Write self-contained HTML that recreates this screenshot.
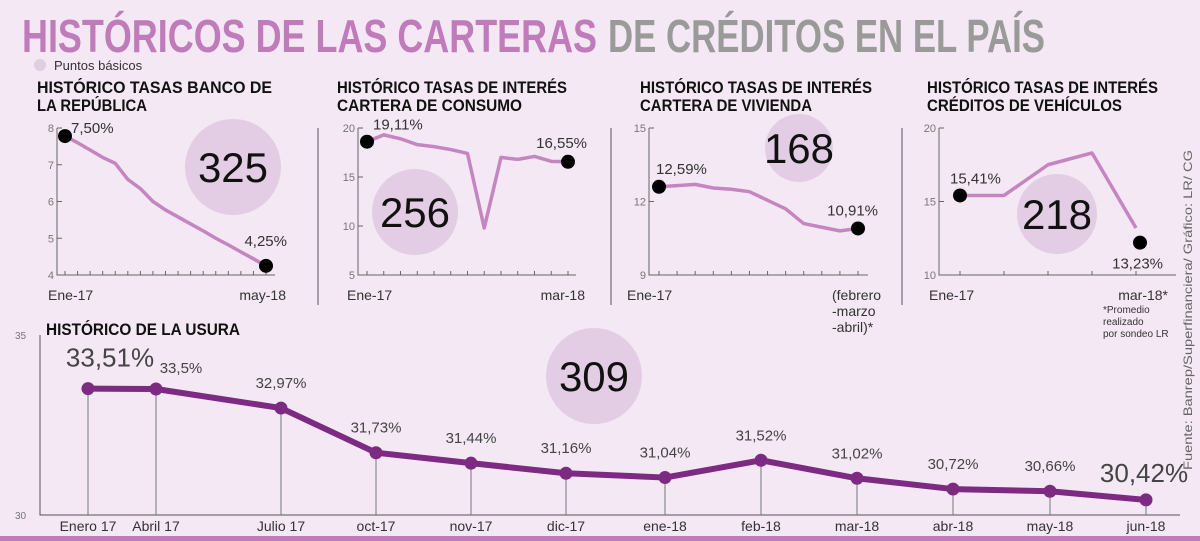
<!DOCTYPE html>
<html><head><meta charset="utf-8">
<style>
html,body{margin:0;padding:0;background:#f3e8f3;}
svg{display:block;font-family:"Liberation Sans",sans-serif;}
</style></head>
<body>
<svg id="root" width="1200" height="541" viewBox="0 0 1200 541">
<rect x="0" y="0" width="1200" height="541" fill="#f3e8f3"/>
<text x="22" y="52" font-size="46" font-weight="bold" fill="#c07bba" textLength="575" lengthAdjust="spacingAndGlyphs">HISTÓRICOS DE  LAS CARTERAS</text>
<text x="608" y="52" font-size="46" font-weight="bold" fill="#9a9a9a" textLength="437" lengthAdjust="spacingAndGlyphs">DE CRÉDITOS EN EL PAÍS</text>
<circle cx="40" cy="65" r="6" fill="#e2cde3"/>
<text x="54" y="70" font-size="13" fill="#333">Puntos básicos</text>

<g font-weight="bold" font-size="17" fill="#111">
<text x="37" y="93" textLength="235" lengthAdjust="spacingAndGlyphs">HISTÓRICO TASAS BANCO DE</text>
<text x="37" y="111" textLength="110" lengthAdjust="spacingAndGlyphs">LA REPÚBLICA</text>
<text x="337" y="93" textLength="230" lengthAdjust="spacingAndGlyphs">HISTÓRICO TASAS DE INTERÉS</text>
<text x="337" y="111" textLength="185" lengthAdjust="spacingAndGlyphs">CARTERA DE CONSUMO</text>
<text x="640" y="93" textLength="232" lengthAdjust="spacingAndGlyphs">HISTÓRICO TASAS DE INTERÉS</text>
<text x="640" y="111" textLength="172" lengthAdjust="spacingAndGlyphs">CARTERA DE VIVIENDA</text>
<text x="927" y="93" textLength="231" lengthAdjust="spacingAndGlyphs">HISTÓRICO TASAS DE INTERÉS</text>
<text x="927" y="111" textLength="195" lengthAdjust="spacingAndGlyphs">CRÉDITOS DE VEHÍCULOS</text>
<text x="46" y="335" textLength="194" lengthAdjust="spacingAndGlyphs">HISTÓRICO DE LA USURA</text>
</g>

<line x1="318" y1="128" x2="318" y2="305" stroke="#555" stroke-width="1"/>
<line x1="611" y1="128" x2="611" y2="305" stroke="#555" stroke-width="1"/>
<line x1="902" y1="128" x2="902" y2="305" stroke="#555" stroke-width="1"/>

<text transform="translate(1192,470) rotate(-90)" font-size="12" fill="#666" textLength="320" lengthAdjust="spacingAndGlyphs">Fuente: Banrep/Superfinanciera/ Gráfico: LR/ CG</text>
<rect x="0" y="536" width="1200" height="5" fill="#c07bba"/>
<g id="charts"></g>
</svg>
<script>
// Chart 1: Banco de la República
const c1Values = [7.78,7.6,7.4,7.2,7.04,6.6,6.35,6.0,5.77,5.58,5.39,5.2,5.0,4.82,4.63,4.44,4.25];
const c1Ticks = [8,7,6,5,4];
// Chart 2: Consumo
const c2Values = [18.6,19.3,18.9,18.3,18.1,17.8,17.4,9.8,17.0,16.8,17.1,16.6,16.55];
const c2Ticks = [20,15,10,5];
// Chart 3: Vivienda
const c3Values = [12.6,12.65,12.7,12.55,12.5,12.4,12.05,11.7,11.1,10.95,10.8,10.9];
const c3Ticks = [15,12,9];
// Chart 4: Vehículos
const c4Values = [15.41,15.41,17.5,18.3,13.2];
const c4Survey = 12.2;
const c4Ticks = [20,15,10];
// Usura
const usCategories = ["Enero 17","Abril 17","Julio 17","oct-17","nov-17","dic-17","ene-18","feb-18","mar-18","abr-18","may-18","jun-18"];
const usValues = [33.51,33.5,32.97,31.73,31.44,31.16,31.04,31.52,31.02,30.72,30.66,30.42];
const usLabels = ["33,51%","33,5%","32,97%","31,73%","31,44%","31,16%","31,04%","31,52%","31,02%","30,72%","30,66%","30,42%"];

const NS="http://www.w3.org/2000/svg";
const root=document.getElementById('charts');
function mk(tag,attrs,parent){const e=document.createElementNS(NS,tag);for(const k in attrs)e.setAttribute(k,attrs[k]);(parent||root).appendChild(e);return e;}
function txt(x,y,s,size,fill,anchor,parent){const t=mk('text',{x:x,y:y,'font-size':size,fill:fill||'#222','text-anchor':anchor||'start'},parent);t.textContent=s;return t;}

function smallChart(cfg){
  const g=mk('g',{});
  
  
  const ys=v=>cfg.yBot-(v-cfg.vMin)/(cfg.vMax-cfg.vMin)*(cfg.yBot-cfg.yTop);
  const n=cfg.values.length;
  const xs=i=>cfg.x0+i*(cfg.x1-cfg.x0)/(n-1);
  const ax=mk('path',{d:`M${cfg.ax},${cfg.yTop} L${cfg.ax},${cfg.yBot} L${cfg.axEnd},${cfg.yBot}`,fill:'none',stroke:'#666','stroke-width':1},g);
  
  
  cfg.ticks.forEach(t=>{
    mk('line',{x1:cfg.ax,y1:ys(t),x2:cfg.ax+5,y2:ys(t),stroke:'#666'},g);
    const l=txt(cfg.ax-3,ys(t)+4,String(t),11,'#777','end',g);
    
    
  });
  for(let i=0;i<n;i++) mk('line',{x1:xs(i),y1:cfg.yBot,x2:xs(i),y2:cfg.yBot-4,stroke:'#666'},g);
  const pts=cfg.values.map((v,i)=>xs(i)+','+ys(v)).join(' ');
  const line=mk('polyline',{points:pts,fill:'none',stroke:'#c585c1','stroke-width':3.5,'stroke-linejoin':'round'},g);
  
  
  const d1=mk('circle',{cx:xs(0),cy:ys(cfg.values[0]),r:7,fill:'#000'},g);
  
  
  const endV=cfg.endValue!==undefined?cfg.endValue:cfg.values[n-1];
  const endX=xs(n-1)+(cfg.endDx||0);
  const d2=mk('circle',{cx:endX,cy:ys(endV),r:7,fill:'#000'},g);
  
  
  const sl=txt(xs(0)+cfg.sl[0],ys(cfg.values[0])+cfg.sl[1],cfg.startLabel,15,'#333','start',g);
  
  
  const el=txt(endX+cfg.el[0],ys(endV)+cfg.el[1],cfg.endLabel,15,'#333','end',g);
  
  
  const c=mk('circle',{cx:cfg.circle[0],cy:cfg.circle[1],r:cfg.circle[2],fill:'#e3cde4'},g);
  
  
  g.insertBefore(c,g.firstChild);
  const ct=txt(cfg.circle[0],cfg.circle[1]+15,cfg.bp,42,'#111','middle',g);
  
  
  cfg.xlabels.forEach(l=>{
    const t=txt(l[0],l[1],l[2],l[3]||14,'#333',l[4]||'start',g);
    
    
  });
}

smallChart({name:'chart-banrep',values:c1Values,ticks:c1Ticks,vMin:4,vMax:8,yTop:128,yBot:275,ax:57,axEnd:275,x0:65,x1:266,
  startLabel:'7,50%',sl:[6,-3],endLabel:'4,25%',el:[21,-20],circle:[233,167,48],bp:'325',
  xlabels:[[48,300,'Ene-17'],[286,300,'may-18',14,'end']]});
smallChart({name:'chart-consumo',values:c2Values,ticks:c2Ticks,vMin:5,vMax:20,yTop:128,yBot:275,ax:358,axEnd:576,x0:367,x1:568,
  startLabel:'19,11%',sl:[6,-12],endLabel:'16,55%',el:[19,-14],circle:[415,212,43],bp:'256',
  xlabels:[[347,300,'Ene-17'],[585,300,'mar-18',14,'end']]});
smallChart({name:'chart-vivienda',values:c3Values,ticks:c3Ticks,vMin:9,vMax:15,yTop:128,yBot:275,ax:649,axEnd:868,x0:659,x1:858,
  startLabel:'12,59%',sl:[-3,-13],endLabel:'10,91%',el:[20,-13],circle:[799,148,34],bp:'168',
  xlabels:[[627,300,'Ene-17'],[832,300,'(febrero'],[832,316,'-marzo'],[832,332,'-abril)*']]});
smallChart({name:'chart-vehiculos',values:c4Values,ticks:c4Ticks,vMin:10,vMax:20,yTop:128,yBot:275,ax:939,axEnd:1176,x0:960,x1:1136,endValue:c4Survey,endDx:4,
  startLabel:'15,41%',sl:[-10,-12],endLabel:'13,23%',el:[23,26],circle:[1057,214,40],bp:'218',
  xlabels:[[929,300,'Ene-17'],[1168,300,'mar-18*',14,'end'],[1103,313,'*Promedio',10],[1103,325,'realizado',10],[1103,337,'por sondeo LR',10]]});

// Usura chart
(function(){
  const g=mk('g',{});
  
  
  const yB=515, yT=335, vMin=30, vMax=35;
  const ys=v=>yB-(v-vMin)/(vMax-vMin)*(yB-yT);
  const xStart=88, xEnd=1146;
  const xs=i=>xStart+i*(xEnd-xStart)/(usCategories.length-1);
  const xsArr=[88,156,281,376,471,566,665,761,857,953,1050,1146];
  const X=i=>xsArr[i]!==undefined?xsArr[i]:xs(i);
  const bub=mk('circle',{cx:594,cy:376,r:48,fill:'#e3cde4'},g);
  
  
  const bt=txt(594,391,'309',42,'#111','middle',g);
  
  
  const ax=mk('path',{d:`M40,${yT} L40,${yB} L1180,${yB}`,fill:'none',stroke:'#555','stroke-width':1},g);
  
  
  [[35,'35'],[30,'30']].forEach(t=>{
    const l=txt(15,ys(t[0])+4,t[1],10,'#777','start',g);
    
    
  });
  usValues.forEach((v,i)=>{
    const dl=mk('line',{x1:X(i),y1:ys(v),x2:X(i),y2:yB,stroke:'#777','stroke-width':1},g);
    
    
    const cl=txt(X(i),531,usCategories[i],14,'#333','middle',g);
    
    
  });
  const pts=usValues.map((v,i)=>X(i)+','+ys(v)).join(' ');
  const line=mk('polyline',{points:pts,fill:'none',stroke:'#7c2a82','stroke-width':6,'stroke-linejoin':'round'},g);
  
  
  usValues.forEach((v,i)=>{
    const p=mk('circle',{cx:X(i),cy:ys(v),r:6.5,fill:'#7c2a82'},g);
    
    
    let lx=X(i), ly=ys(v)-20, size=15;
    if(i===0){lx=X(i)+22; ly=ys(v)-22; size=26;}
    if(i===usValues.length-1){lx=X(i)-2; ly=ys(v)-18; size=26;}
    if(i===1){lx=X(i)+25; ly=ys(v)-16;}
    const t=txt(lx,ly,usLabels[i],size,'#444','middle',g);
    
    
  });
})();
</script>
</body></html>
